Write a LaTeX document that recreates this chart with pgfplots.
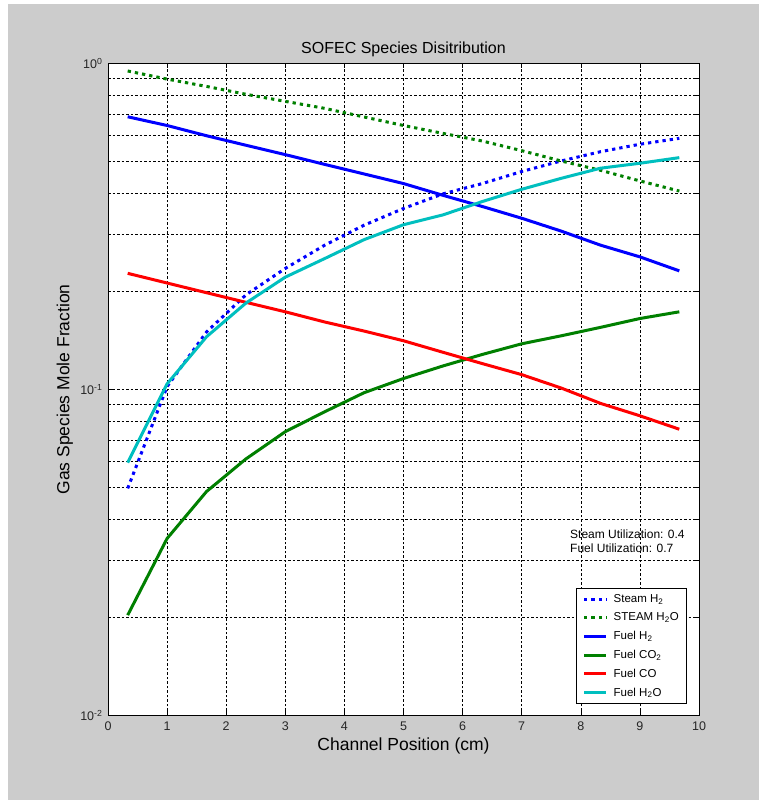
\documentclass[border=0pt]{standalone}
\usepackage{pgfplots}
\pgfplotsset{compat=1.18}
\usepackage{fontspec}
\setmainfont{Liberation Sans}
\definecolor{figgray}{RGB}{204,204,204}
\definecolor{mgreen}{RGB}{0,128,0}
\definecolor{mcyan}{RGB}{0,191,191}
\definecolor{mblue}{RGB}{0,0,255}
\definecolor{mred}{RGB}{255,0,0}

\pgfplotstableread{
x       steamH2 steamH2O fuelH2 fuelCO2 fuelCO fuelH2O
0.3333  0.0497  0.948    0.686  0.0203  0.227  0.0596
1.0000  0.102   0.895    0.645  0.0349  0.212  0.104
1.6667  0.150   0.850    0.600  0.0486  0.198  0.145
2.3333  0.195   0.804    0.561  0.0612  0.185  0.184
3.0000  0.235   0.765    0.525  0.0742  0.173  0.221
3.6667  0.277   0.728    0.490  0.0854  0.161  0.252
4.3333  0.319   0.685    0.458  0.0977  0.151  0.288
5.0000  0.359   0.645    0.428  0.108   0.141  0.320
5.6667  0.398   0.610    0.394  0.118   0.130  0.343
6.3333  0.428   0.578    0.364  0.128   0.120  0.377
7.0000  0.466   0.540    0.335  0.138   0.111  0.411
7.6667  0.502   0.502    0.306  0.146   0.101  0.444
8.3333  0.536   0.470    0.277  0.155   0.0906 0.477
9.0000  0.565   0.436    0.255  0.165   0.083  0.494
9.6667  0.589   0.406    0.231  0.173   0.0755 0.514
}\datatable

\begin{document}
\begin{tikzpicture}[x=1pt,y=1pt]
\useasboundingbox (0,0) rectangle (759,800);
\fill[white] (0,0) rectangle (759,800);
\fill[figgray] (8,0) rectangle (759,796);
\begin{axis}[
  at={(108pt,84.6pt)}, anchor=south west,
  scale only axis, width=591pt, height=652pt,
  xmin=0, xmax=10, ymin=0.01, ymax=1, ymode=log,
  xtick={0,1,...,10},
  ytick={0.01,0.1,1},
  yticklabels={10\textsuperscript{-2},10\textsuperscript{-1},10\textsuperscript{0}},
  minor ytick={0.02,0.03,0.04,0.05,0.06,0.07,0.08,0.09,0.2,0.3,0.4,0.5,0.6,0.7,0.8,0.9},
  grid=both,
  major grid style={black, line width=0.5pt, dash pattern=on 2.5pt off 2pt},
  minor grid style={black, line width=0.5pt, dash pattern=on 2.5pt off 2pt},
  tick align=inside,
  major tick length=5pt, minor tick length=3pt,
  axis line style={black, line width=0.8pt},
  tick style={black, line width=0.6pt},
  axis background/.style={fill=white},
  /pgf/number format/assume math mode=true,
  ticklabel style={font=\fontsize{12.5}{14}\selectfont, text=black!85},
  xticklabel style={yshift=-3pt},
  yticklabel style={xshift=-2pt},
  title={SOFEC Species Disitribution},
  title style={at={(axis description cs:0.5,1.0236)}, anchor=center, yshift=-7pt, font=\fontsize{16}{19}\selectfont},
  xlabel={Channel Position (cm)},
  xlabel style={at={(axis description cs:0.5,-0.0462)}, anchor=center, font=\fontsize{17.5}{20}\selectfont},
  ylabel={Gas Species Mole Fraction},
  ylabel style={at={(axis description cs:-0.0728,0.5)}, anchor=center, font=\fontsize{17.5}{20}\selectfont},
  legend cell align=left,
  legend style={at={(axis description cs:0.9797,0.0175)}, anchor=south east,
    draw=black, fill=white, line width=0.6pt, font=\fontsize{11.5}{13}\selectfont,
    row sep=5pt, column sep=4pt, inner xsep=6pt, inner ysep=4pt},
  legend image code/.code={\draw[#1] (0pt,0pt) -- (22pt,0pt);},
]
\addplot[mblue, line width=3pt, dash pattern=on 3.3pt off 4pt] table[x=x,y=steamH2]{\datatable};
\addlegendentry{Steam H\textsubscript{2}}
\addplot[mgreen, line width=3pt, dash pattern=on 3.3pt off 4pt] table[x=x,y=steamH2O]{\datatable};
\addlegendentry{STEAM H\textsubscript{2}O}
\addplot[mblue, line width=3pt] table[x=x,y=fuelH2]{\datatable};
\addlegendentry{Fuel H\textsubscript{2}}
\addplot[mgreen, line width=3pt] table[x=x,y=fuelCO2]{\datatable};
\addlegendentry{Fuel CO\textsubscript{2}}
\addplot[mred, line width=3pt] table[x=x,y=fuelCO]{\datatable};
\addlegendentry{Fuel CO}
\addplot[mcyan, line width=3pt] table[x=x,y=fuelH2O]{\datatable};
\addlegendentry{Fuel H\textsubscript{2}O}
\node[anchor=west, font=\fontsize{12}{14}\selectfont, inner sep=0pt] at (axis cs:7.817,0.0360) {Steam Utilization: 0.4};
\node[anchor=west, font=\fontsize{12}{14}\selectfont, inner sep=0pt] at (axis cs:7.817,0.0326) {Fuel Utilization: 0.7};
\end{axis}
\end{tikzpicture}
\end{document}
